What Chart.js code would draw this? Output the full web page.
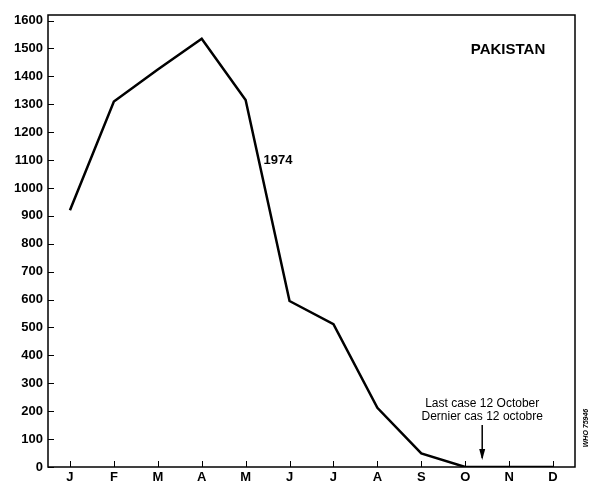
<!DOCTYPE html>
<html>
<head>
<meta charset="utf-8">
<script src="https://cdn.jsdelivr.net/npm/chart.js@4/dist/chart.umd.min.js"></script>
<style>
  html, body { margin: 0; padding: 0; background: #fff; }
  #wrap { width: 591px; height: 484px; position: relative; }
</style>
</head>
<body>
<div id="wrap"><canvas id="myChart"></canvas></div>
<script>
'use strict';

// months along the bottom
var months = ['J', 'F', 'M', 'A', 'M', 'J', 'J', 'A', 'S', 'O', 'N', 'D'];
// smallpox cases, Pakistan 1974
var cases1974 = [920, 1310, 1425, 1535, 1315, 595, 512, 212, 49, 0, 0, 0];
var yTicks = [0, 100, 200, 300, 400, 500, 600, 700, 800, 900, 1000, 1100, 1200, 1300, 1400, 1500, 1600];
var yMax = 1620;

var country = 'PAKISTAN';
var seriesLabel = '1974';
var lastCaseText = ['Last case 12 October', 'Dernier cas 12 octobre'];
var lastCaseMonth = 9;   // October
var lastCaseDay = 12;
var refText = 'WHO 75946';

var fontName = '"Liberation Sans Narrow", "Liberation Sans", Arial, sans-serif';

// frame, inward ticks and the text notes
var extras = {
  id: 'extras',
  afterDraw: function(chart) {
    var ctx = chart.ctx;
    var a = chart.chartArea;
    var x = chart.scales.x;
    var y = chart.scales.y;
    ctx.save();
    ctx.strokeStyle = '#000';
    ctx.lineWidth = 1.5;
    ctx.strokeRect(a.left, a.top, a.right - a.left, a.bottom - a.top);

    ctx.lineWidth = 1;
    for (var i = 0; i < yTicks.length; i++) {
      var py = Math.round(y.getPixelForValue(yTicks[i])) + 0.5;
      ctx.beginPath();
      ctx.moveTo(a.left, py);
      ctx.lineTo(a.left + 6, py);
      ctx.stroke();
    }
    for (var j = 0; j < months.length; j++) {
      var px = Math.round(x.getPixelForValue(j)) + 0.5;
      ctx.beginPath();
      ctx.moveTo(px, a.bottom);
      ctx.lineTo(px, a.bottom - 6);
      ctx.stroke();
    }

    ctx.fillStyle = '#000';
    ctx.textBaseline = 'middle';
    ctx.textAlign = 'center';
    ctx.font = 'bold 15px ' + fontName;
    ctx.fillText(country, 508, 50);

    ctx.textAlign = 'left';
    ctx.font = 'bold 13px ' + fontName;
    var p = chart.getDatasetMeta(0).data[4];
    var q = chart.getDatasetMeta(0).data[5];
    ctx.fillText(seriesLabel, (p.x + q.x) / 2 - 4, y.getPixelForValue(1100));

    // arrow to the last case
    var xO = x.getPixelForValue(lastCaseMonth);
    var xN = x.getPixelForValue(lastCaseMonth + 1);
    var ax = xO + (xN - xO) * lastCaseDay / 31;
    ctx.textAlign = 'center';
    ctx.font = '12px ' + fontName;
    ctx.fillText(lastCaseText[0], ax, 404);
    ctx.fillText(lastCaseText[1], ax, 417);
    ctx.lineWidth = 1.5;
    ctx.beginPath();
    ctx.moveTo(ax, 425);
    ctx.lineTo(ax, 458);
    ctx.stroke();
    ctx.beginPath();
    ctx.moveTo(ax - 3, 449);
    ctx.lineTo(ax, 460);
    ctx.lineTo(ax + 3, 449);
    ctx.closePath();
    ctx.fill();

    ctx.translate(586, 428);
    ctx.rotate(-Math.PI / 2);
    ctx.font = 'italic bold 7px ' + fontName;
    ctx.fillText(refText, 0, 0);
    ctx.restore();
  }
};

var ctx = document.getElementById('myChart').getContext('2d');
var chart = new Chart(ctx, {
  type: 'line',
  data: {
    labels: months,
    datasets: [{
      label: seriesLabel,
      data: cases1974,
      borderColor: '#000',
      borderWidth: 2.5,
      pointRadius: 0,
      tension: 0,
      fill: false
    }]
  },
  options: {
    responsive: true,
    maintainAspectRatio: false,
    animation: false,
    layout: { padding: { top: 15, right: 16, left: 0, bottom: 0 } },
    plugins: { legend: { display: false }, tooltip: { enabled: false } },
    scales: {
      x: {
        offset: true,
        grid: { display: false, drawTicks: false },
        border: { display: false },
        ticks: { color: '#000', padding: 3, maxRotation: 0, autoSkip: false, font: { family: fontName, size: 13, weight: 'bold' } },
        afterFit: function(scale) { scale.height = 17; }
      },
      y: {
        min: 0,
        max: yMax,
        grid: { display: false, drawTicks: false },
        border: { display: false },
        afterBuildTicks: function(scale) {
          scale.ticks = yTicks.map(function(v) { return { value: v }; });
        },
        ticks: {
          color: '#000',
          padding: 5,
          font: { family: fontName, size: 13, weight: 'bold' },
          callback: function(v) { return String(v); }
        },
        afterFit: function(scale) { scale.width = 48; }
      }
    }
  },
  plugins: [extras]
});
</script>
</body>
</html>
